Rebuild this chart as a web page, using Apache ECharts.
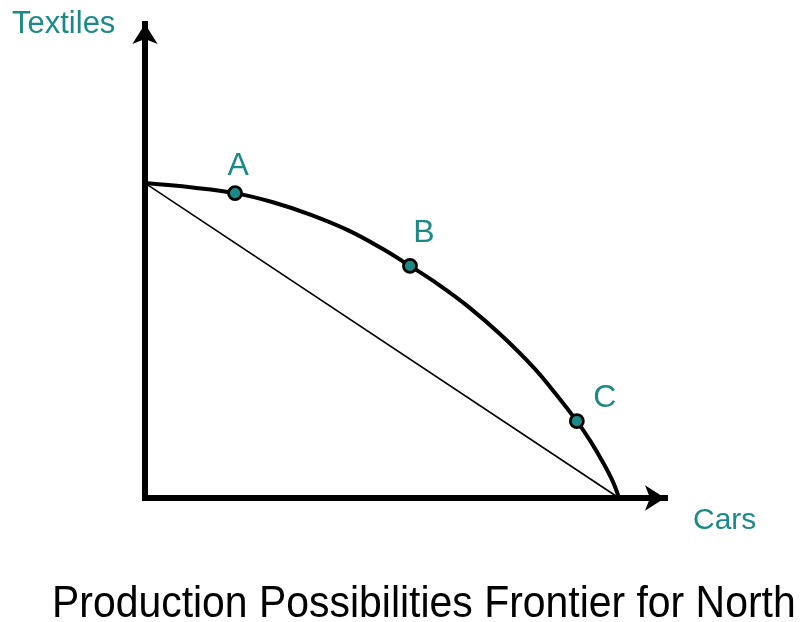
<!DOCTYPE html>
<html>
<head>
<meta charset="utf-8">
<script src="https://cdn.jsdelivr.net/npm/echarts@6/dist/echarts.min.js"></script>
<style>
    body { margin: 0; padding: 0; background: #fff; }
    #chart { width: 803px; height: 622px; }
</style>
</head>
<body>
<div id="chart"></div>
<script type="text/javascript">
    // frontier (cars, textiles)
    var frontierCars = [0, 10, 19, 27, 35, 43, 50, 55.9, 62, 68, 75, 82, 87, 91.1, 94, 96.5, 98.7, 100];
    var frontierTextiles = [100, 98.6, 96.8, 93.9, 89.9, 84.9, 79.2, 73.7, 67.7, 61.0, 51.9, 41.4, 32.4, 24.4, 18.0, 11.6, 5.2, 0];
    // straight line between the two ends
    var lineCars = [0, 100];
    var lineTextiles = [100, 0];
    // labelled points
    var pointNames = ['A', 'B', 'C'];
    var pointCars = [19.0, 55.9, 91.1];
    var pointTextiles = [96.8, 73.7, 24.4];

    var teal = '#1b8a86';

    var frontierData = frontierCars.map(function (x, i) { return [x, frontierTextiles[i]]; });
    var lineData = lineCars.map(function (x, i) { return [x, lineTextiles[i]]; });
    var labelOffsets = [[3, -27], [14, -33], [28, -23]];
    var pointData = pointNames.map(function (n, i) {
        return {
            name: n,
            value: [pointCars[i], pointTextiles[i]],
            label: { offset: labelOffsets[i] }
        };
    });

    var chart = echarts.init(document.getElementById('chart'));
    var option = {
        animation: false,
        grid: { left: 145, top: 24, width: 520, height: 474 },
        xAxis: {
            type: 'value', min: 0, max: 109.7,
            axisLine: {
                symbol: ['none', 'arrow'], symbolSize: [19, 20],
                lineStyle: { color: '#000', width: 6, cap: 'square' }
            },
            axisTick: { show: false }, axisLabel: { show: false }, splitLine: { show: false }
        },
        yAxis: {
            type: 'value', min: 0, max: 150.5,
            axisLine: {
                symbol: ['none', 'arrow'], symbolSize: [19, 20],
                lineStyle: { color: '#000', width: 6, cap: 'square' }
            },
            axisTick: { show: false }, axisLabel: { show: false }, splitLine: { show: false }
        },
        series: [
            {
                type: 'line', data: lineData, symbol: 'none',
                lineStyle: { color: '#000', width: 1.6 }, z: 2
            },
            {
                type: 'line', data: frontierData, symbol: 'none', smooth: 0.4,
                lineStyle: { color: '#000', width: 4 }, z: 3
            },
            {
                type: 'scatter', data: pointData, symbolSize: 13,
                itemStyle: { color: teal, borderColor: '#000', borderWidth: 2.8, opacity: 1 },
                label: {
                    show: true, position: 'inside',
                    formatter: '{b}', color: teal, fontSize: 32, fontFamily: 'Liberation Sans'
                },
                z: 4
            }
        ],
        graphic: [
            {
                type: 'text', x: 12, y: 9,
                style: { text: 'Textiles', fill: teal, font: '31px "Liberation Sans"', verticalAlign: 'top' }
            },
            {
                type: 'text', x: 693, y: 506,
                style: { text: 'Cars', fill: teal, font: '30px "Liberation Sans"', verticalAlign: 'top' }
            },
            {
                type: 'text', x: 52, y: 583, scaleX: 0.93,
                style: { text: 'Production Possibilities Frontier for North', fill: '#000', font: '44px "Liberation Sans"', verticalAlign: 'top' }
            }
        ]
    };
    chart.setOption(option);
</script>
</body>
</html>
